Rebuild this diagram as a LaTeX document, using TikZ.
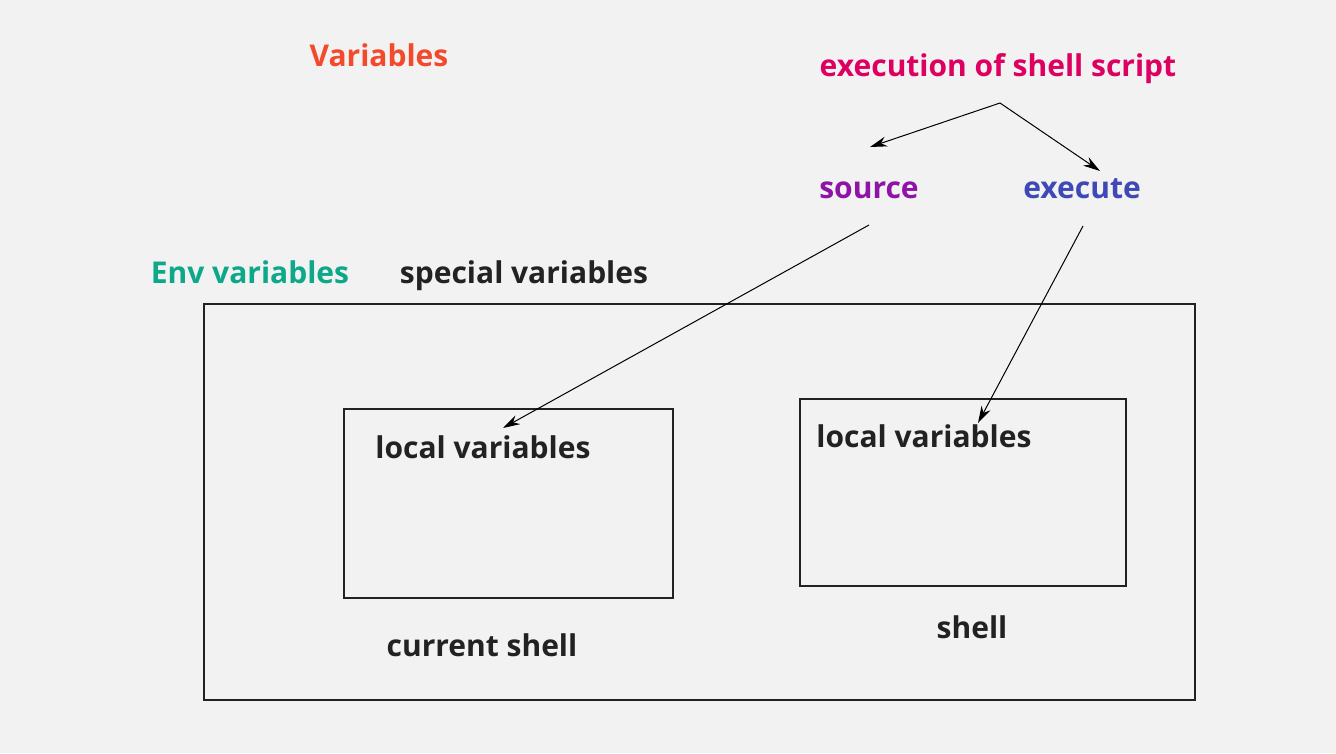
\documentclass[tikz,border=0pt]{standalone}
\usepackage{fontspec}
\setmainfont{Open Sans}
\usepackage{tikz}
\usetikzlibrary{arrows.meta}
\definecolor{bg}{HTML}{F2F2F2}
\definecolor{ink}{HTML}{222222}
\definecolor{varred}{HTML}{F24A2B}
\definecolor{execpink}{HTML}{DD0060}
\definecolor{srcpurple}{HTML}{9013A7}
\definecolor{runblue}{HTML}{3F49B5}
\definecolor{envgreen}{HTML}{0DA88A}

\begin{document}
\begin{tikzpicture}[x=1pt, y=-1pt,
   lbl/.style={anchor=base, inner sep=0pt, font=\fontsize{30}{36}\selectfont\bfseries},
   box/.style={draw=ink, line width=2pt, inner sep=0pt},
   arr/.style={-{Stealth[length=17pt,width=10pt]}, line width=1pt, black}]

   \useasboundingbox[fill=bg] (0,0) rectangle (1336,753);

   \node[box, minimum width=991pt, minimum height=396pt] (outer) at (699.5,502) {};
   \node[box, minimum width=329pt, minimum height=189pt] (curbox) at (508.5,503.5) {};
   \node[box, minimum width=326pt, minimum height=187pt] (subbox) at (963,492.5) {};

   \node[lbl, text=varred] (vars) at (379,66) {Variables};
   \node[lbl, text=execpink] (execsh) at (998,76) {execution of shell script};
   \node[lbl, text=srcpurple] (source) at (869,198) {source};
   \node[lbl, text=runblue] (execute) at (1082,198) {execute};
   \node[lbl, text=envgreen] (envvars) at (250,283) {Env variables};
   \node[lbl, text=ink] (specvars) at (524,283) {special variables};
   \node[lbl, text=ink] (localL) at (483,458) {local variables};
   \node[lbl, text=ink] (localR) at (924,447) {local variables};
   \node[lbl, text=ink] (curshell) at (482,656) {current shell};
   \node[lbl, text=ink] (shell) at (972,638) {shell};

   \coordinate (fork) at (1000,103);
   \coordinate (srcin) at (870,147);
   \coordinate (runin) at (1100,171);
   \coordinate (srcout) at (869,225);
   \coordinate (runout) at (1083,226);
   \coordinate (localLtip) at (503,428);
   \coordinate (localRtip) at (978,423);

   \draw[arr] (fork) -- (srcin);
   \draw[arr] (fork) -- (runin);
   \draw[arr] (srcout) -- (localLtip);
   \draw[arr] (runout) -- (localRtip);
  \end{tikzpicture}
\end{document}
